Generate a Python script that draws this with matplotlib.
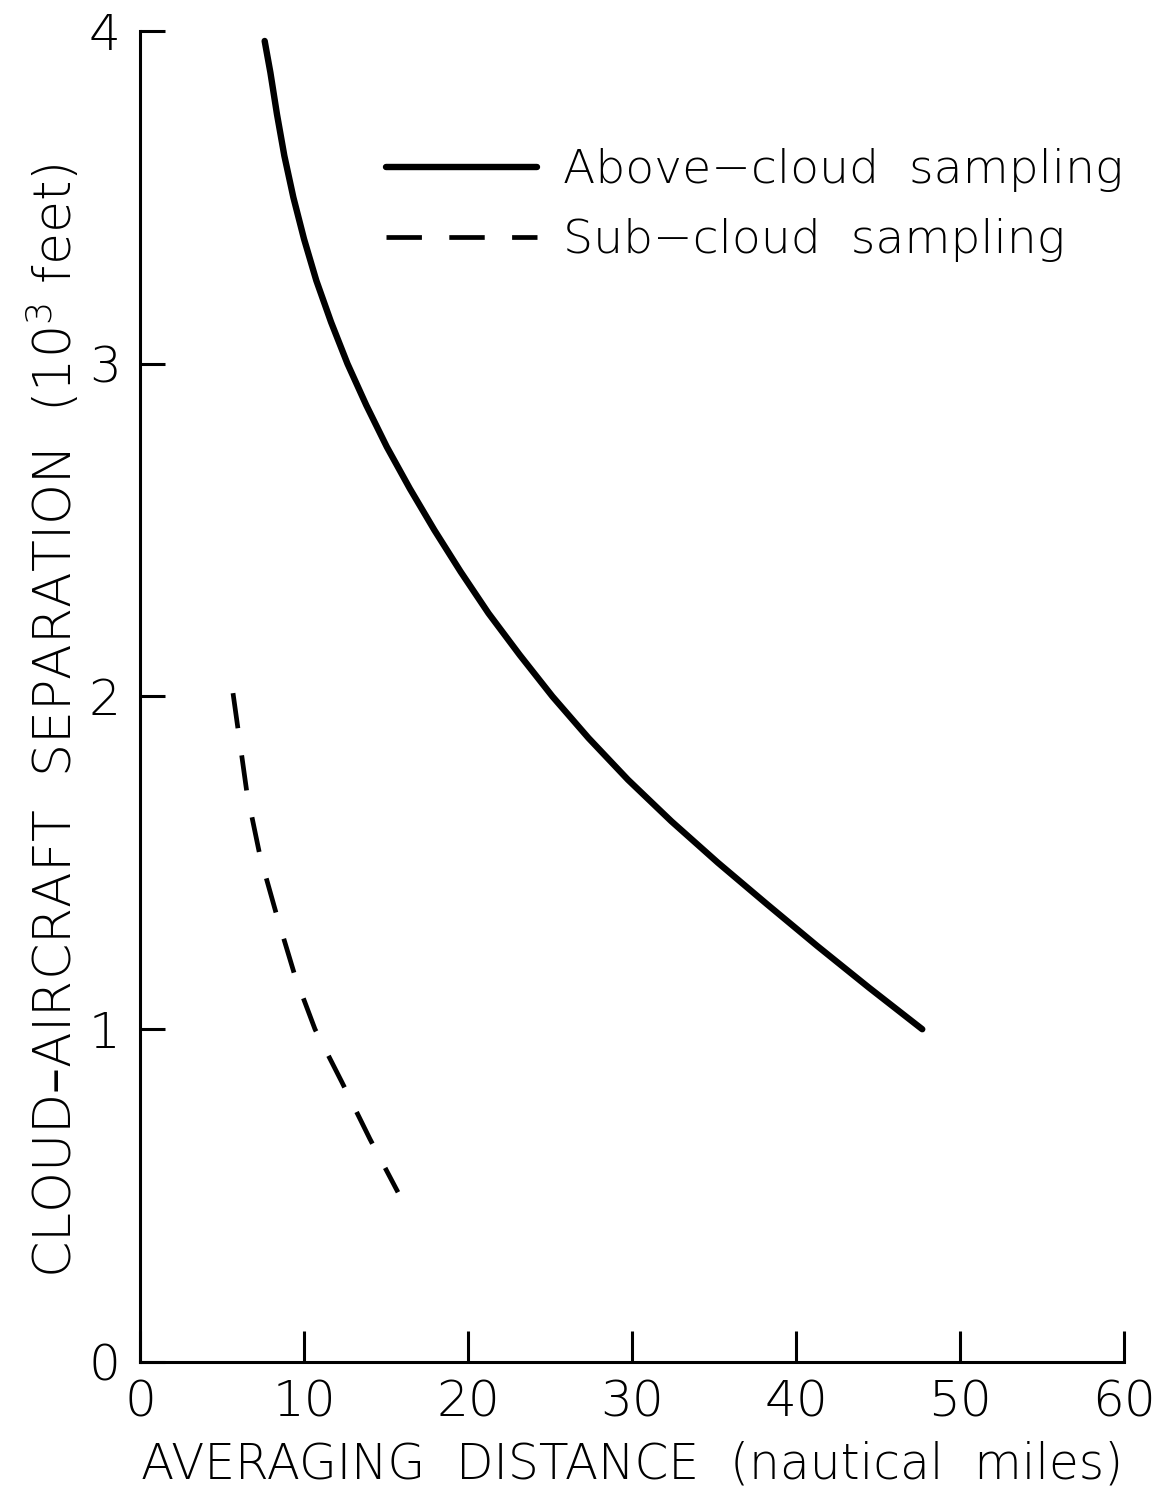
import matplotlib
matplotlib.use("Agg")
import matplotlib.pyplot as plt

# Data
above_x = [7.6, 7.95, 8.35, 8.8, 9.35, 10.0, 10.75, 11.65, 12.65, 13.8, 15.05, 16.45, 17.95,
           19.55, 21.25, 23.15, 25.15, 27.35, 29.75, 32.4, 35.25, 38.25, 41.3, 44.45, 47.7]
above_y = [3.97, 3.875, 3.75, 3.625, 3.5, 3.375, 3.25, 3.125, 3.0, 2.875, 2.75, 2.625, 2.5,
           2.375, 2.25, 2.125, 2.0, 1.875, 1.75, 1.625, 1.5, 1.375, 1.25, 1.125, 1.0]

sub_x = [5.67, 6.52, 7.32, 8.35, 9.45, 10.67, 12.32, 14.02, 15.73]
sub_y = [2.01, 1.71, 1.52, 1.34, 1.16, 1.00, 0.84, 0.67, 0.51]

x_ticks = [0, 10, 20, 30, 40, 50, 60]
y_ticks = [0, 1, 2, 3, 4]

labels = ["Above\u2212cloud  sampling", "Sub\u2212cloud  sampling"]
xlabel = "AVERAGING  DISTANCE  (nautical  miles)"
ylabel = "CLOUD\u2013AIRCRAFT  SEPARATION  (10$^3$ feet)"

plt.rcParams['font.family'] = ['DejaVu Sans']
plt.rcParams['mathtext.default'] = 'regular'

fig = plt.figure(figsize=(11.64, 14.97), dpi=100)
ax = fig.add_axes([0.1203, 0.0902, 0.8453, 0.8891])

ax.plot(above_x, above_y, color='black', lw=4.6, solid_capstyle='round',
        solid_joinstyle='round', label=labels[0])
ax.plot(sub_x, sub_y, color='black', lw=3.4, linestyle=(0, (7.5, 5.8)), label=labels[1])

ax.set_xlim(0, 60)
ax.set_ylim(0, 4)
for s in ['top', 'right']:
    ax.spines[s].set_visible(False)
for s in ['left', 'bottom']:
    ax.spines[s].set_linewidth(2.2)

ax.set_xticks(x_ticks)
ax.set_yticks(y_ticks)
ax.tick_params(axis='x', direction='in', length=22, width=2.2, pad=12, labelsize=36)
ax.tick_params(axis='y', direction='in', length=18, width=2.2, pad=14, labelsize=36)
for t in ax.get_xticklabels() + ax.get_yticklabels():
    t.set_fontweight('light')

ax.set_xlabel(xlabel, fontsize=35, labelpad=10, fontweight='light')
ax.set_ylabel(ylabel, fontsize=37.5, fontweight='light')
ax.yaxis.set_label_coords(-0.058, 0.482)

leg = ax.legend(loc='upper left', bbox_to_anchor=(0.25, 0.912), frameon=False,
                fontsize=34, handlelength=3.2, handletextpad=0.55, labelspacing=0.55,
                borderpad=0, borderaxespad=0)
for t in leg.get_texts():
    t.set_fontweight('light')

fig.savefig("out.png", dpi=100, facecolor='white')
